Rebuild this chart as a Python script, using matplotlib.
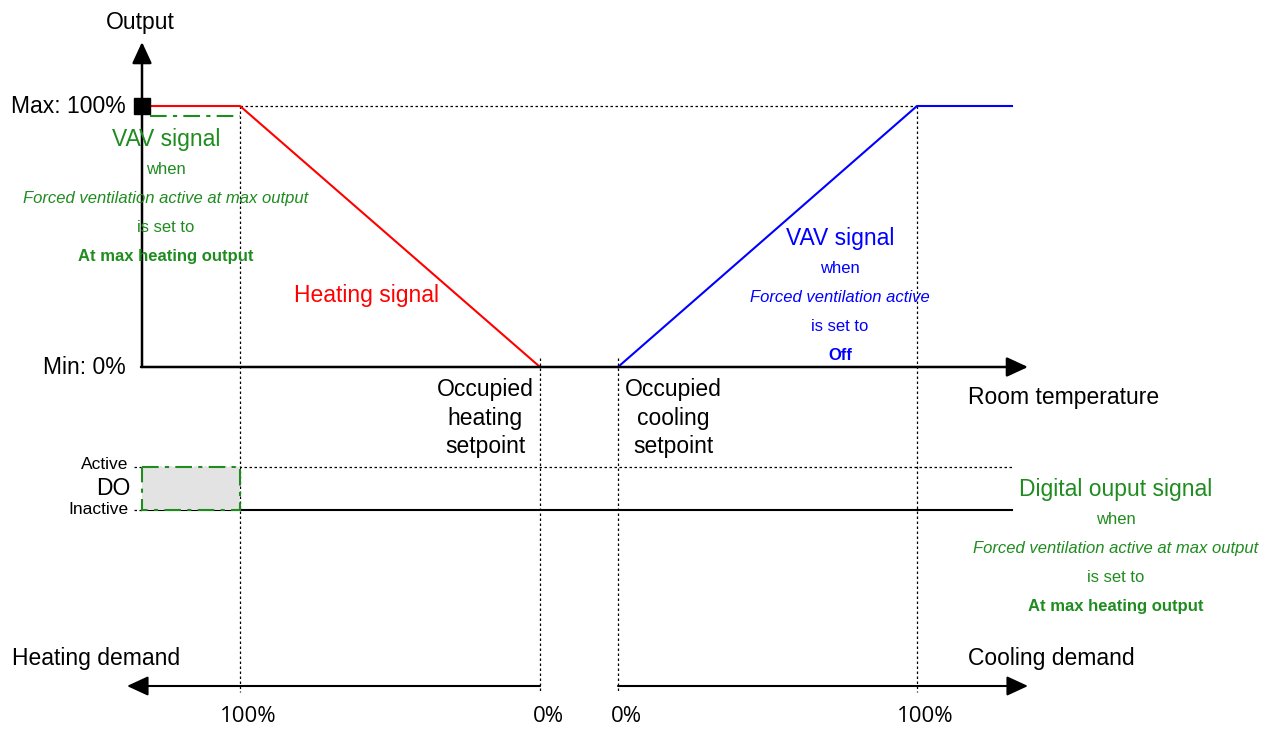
import matplotlib.pyplot as plt
from matplotlib.patches import Rectangle

plt.rcParams['font.family'] = ['Liberation Sans', 'DejaVu Sans']

# schematic positions (pixel-like units on the page)
x_axis0 = 142          # output axis origin
x_heat_max = 240       # heating demand 100%
x_heat_sp = 540        # occupied heating setpoint (heating 0%)
x_cool_sp = 618        # occupied cooling setpoint (cooling 0%)
x_cool_max = 917       # cooling demand 100%
x_end = 1012

# output levels in %
heat_x = [x_axis0, x_heat_max, x_heat_sp]
heat_pct = [100, 100, 0]
cool_x = [x_cool_sp, x_cool_max, x_end]
cool_pct = [0, 100, 100]
vav_forced_x = [150, x_heat_max]
vav_forced_pct = [96, 96]

y_min, y_max = 367, 106  # pixel rows of 0% and 100%
y_active, y_inactive = 467, 510
y_demand = 686


def py(p):
    return y_min + (y_max - y_min) * p / 100.0


GREEN = '#1f8c1f'

fig = plt.figure(figsize=(12.74, 7.29), dpi=100)
ax = fig.add_axes([0, 0, 1, 1])
ax.set_xlim(0, 1274)
ax.set_ylim(729, 0)
ax.axis('off')

# guide lines
dot = dict(color='black', lw=0.9, ls=(0, (2, 2)))
ax.plot([x_heat_max, x_cool_max], [y_max, y_max], **dot)
ax.plot([x_heat_max, x_heat_max], [y_max, 692], **dot)
ax.plot([x_cool_max, x_cool_max], [y_max, 692], **dot)
ax.plot([x_heat_sp, x_heat_sp], [358, 692], **dot)
ax.plot([x_cool_sp, x_cool_sp], [358, 692], **dot)
ax.plot([134, x_end], [y_active, y_active], **dot)
ax.plot([134, x_axis0], [y_inactive, y_inactive], **dot)

# axes arrows
arr = dict(arrowstyle='-|>,head_length=1.3,head_width=0.6', color='black', lw=1.8,
           shrinkA=0, shrinkB=0)
ax.annotate('', xy=(x_axis0, 42), xytext=(x_axis0, y_min), arrowprops=arr)
ax.annotate('', xy=(1028, y_min), xytext=(x_axis0 - 1, y_min), arrowprops=arr)
ax.annotate('', xy=(127, y_demand), xytext=(x_heat_sp, y_demand),
            arrowprops=dict(arr, lw=1.5))
ax.annotate('', xy=(1028, y_demand), xytext=(x_cool_sp, y_demand),
            arrowprops=dict(arr, lw=1.5))
ax.plot([x_axis0, x_end], [y_inactive, y_inactive], color='black', lw=1.5)

# signals
ax.plot(heat_x, [py(v) for v in heat_pct], color='red', lw=1.5)
ax.plot(cool_x, [py(v) for v in cool_pct], color='blue', lw=1.5)
ax.plot(vav_forced_x, [py(v) for v in vav_forced_pct], color=GREEN, lw=1.5,
        ls=(0, (8, 3, 2, 3)))
ax.plot([x_axis0], [py(100)], marker='s', ms=11, color='black')

# DO rectangle
ax.add_patch(Rectangle((x_axis0, y_active), x_heat_max - x_axis0, y_inactive - y_active,
                       facecolor='#e3e3e3', edgecolor=GREEN, lw=1.5,
                       ls=(0, (8, 3, 2, 3)), zorder=3))

# labels
big = 16.5
small = 12
ax.text(x_axis0 - 2, 22, 'Output', fontsize=big, ha='center', va='center')
ax.text(126, py(100), 'Max: 100%', fontsize=big, ha='right', va='center')
ax.text(126, py(0), 'Min: 0%', fontsize=big, ha='right', va='center')
ax.text(968, 397, 'Room temperature', fontsize=big, ha='left', va='center')
ax.text(366, 295, 'Heating signal', fontsize=big, ha='center', va='center', color='red')

ax.text(485, 418, 'Occupied\nheating\nsetpoint', fontsize=big, ha='center', va='center',
        linespacing=1.33)
ax.text(673, 418, 'Occupied\ncooling\nsetpoint', fontsize=big, ha='center', va='center',
        linespacing=1.33)

ax.text(128, 464, 'Active', fontsize=12.5, ha='right', va='center')
ax.text(130, 488, 'DO', fontsize=big, ha='right', va='center')
ax.text(128, 510, 'Inactive', fontsize=12.5, ha='right', va='center')

ax.text(12, 658, 'Heating demand', fontsize=big, ha='left', va='center')
ax.text(968, 658, 'Cooling demand', fontsize=big, ha='left', va='center')

pct_font = ['Open Sans', 'DejaVu Sans']
for xp, lab in [(x_heat_max, '100%'), (x_heat_sp, '0%'), (x_cool_sp, '0%'),
                (x_cool_max, '100%')]:
    ax.text(xp + 8, 717, lab, fontsize=16, ha='center', va='center', family=pct_font)


def note(x, y0, title, setting, bold, color):
    ax.text(x, y0, title, fontsize=big, ha='center', va='center', color=color)
    ax.text(x, y0 + 30, 'when', fontsize=small, ha='center', va='center', color=color)
    ax.text(x, y0 + 59, setting, fontsize=small, ha='center', va='center', color=color,
            style='italic')
    ax.text(x, y0 + 88, 'is set to', fontsize=small, ha='center', va='center', color=color)
    ax.text(x, y0 + 117, bold, fontsize=small, ha='center', va='center', color=color,
            weight='bold')


note(166, 139, 'VAV signal', 'Forced ventilation active at max output',
     'At max heating output', GREEN)
note(840, 238, 'VAV signal', 'Forced ventilation active', 'Off', 'blue')
note(1116, 489, 'Digital ouput signal', 'Forced ventilation active at max output',
     'At max heating output', GREEN)

fig.savefig('out.png', dpi=100)
